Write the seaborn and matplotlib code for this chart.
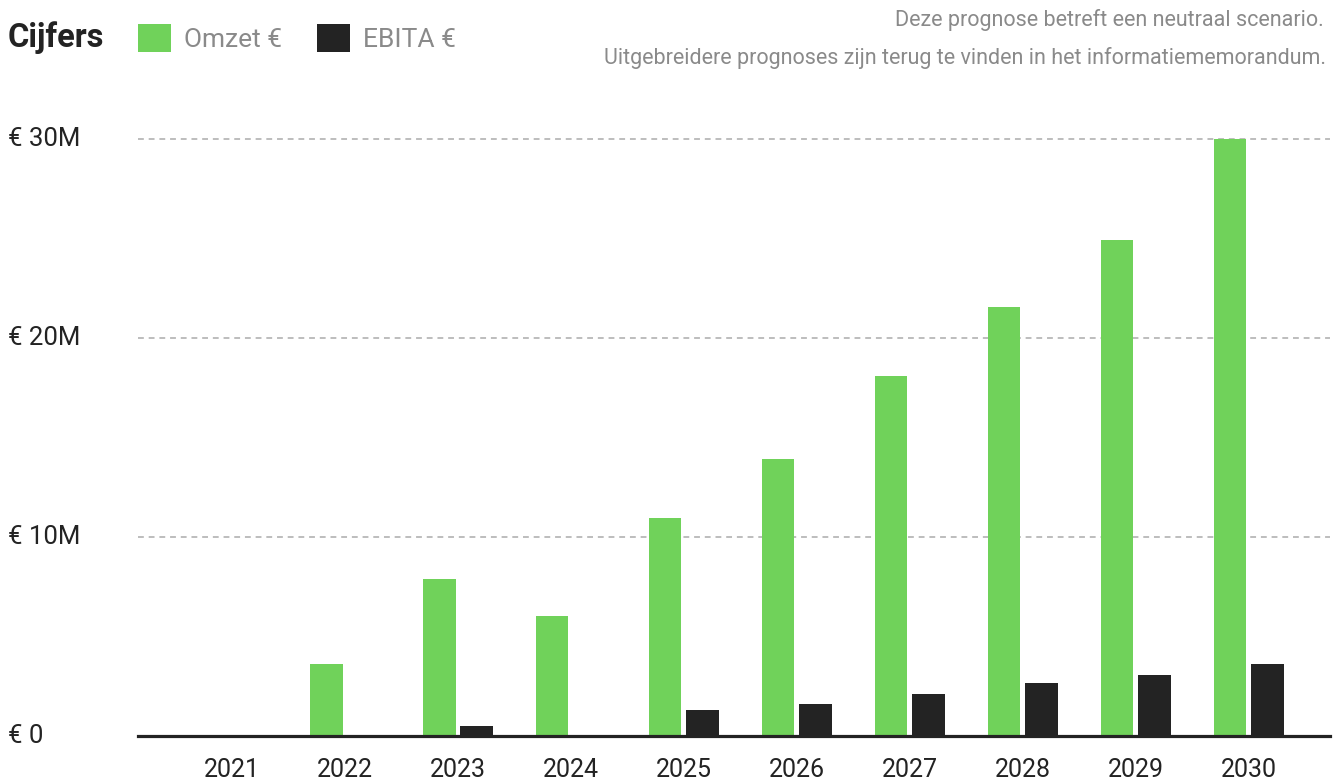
import numpy as np
import pandas as pd
import matplotlib.pyplot as plt
import matplotlib.transforms as mtransforms
import seaborn as sns

years = ['2021', '2022', '2023', '2024', '2025', '2026', '2027', '2028', '2029', '2030']
omzet = [0, 3.62, 7.89, 6.03, 10.95, 13.92, 18.09, 21.56, 24.92, 30.0]   # M euro
ebita = [0, 0, 0.5, 0, 1.31, 1.61, 2.11, 2.66, 3.07, 3.62]
series_names = ['Omzet €', 'EBITA €']
colors = ['#70d25a', '#232323']
ytick_vals = [0, 10, 20, 30]
ytick_labels = ['€ 0', '€ 10M', '€ 20M', '€ 30M']

df = pd.DataFrame({'year': years * 2,
                   'value': omzet + ebita,
                   'series': [series_names[0]] * len(years) + [series_names[1]] * len(years)})

sns.set_style('white')
plt.rcParams['font.family'] = ['Roboto', 'DejaVu Sans']

fig = plt.figure(figsize=(13.39, 7.81), dpi=100)
ax = fig.add_axes([138 / 1339, 1 - 736 / 781, (1330 - 138) / 1339, (736 - 139) / 781])

sns.barplot(data=df, x='year', y='value', hue='series', palette=colors,
            width=0.66, gap=0.12, ax=ax, saturation=1, linewidth=0, edgecolor='none')

ax.set_xlim(-0.83, 9.72)
ax.set_ylim(0, 30)
ax.set_xlabel('')
ax.set_ylabel('')

for s in ['top', 'right', 'left']:
    ax.spines[s].set_visible(False)
ax.spines['bottom'].set_color('#232323')
ax.spines['bottom'].set_linewidth(2.3)
ax.spines['bottom'].set_zorder(5)

# gridlines
for v in ytick_vals[1:]:
    ax.axhline(v, color='#bdbdbd', lw=1.4, ls=(0, (3, 2.5)), zorder=0, clip_on=False)

ax.set_yticks([])
ax.tick_params(axis='x', length=0, pad=16, labelsize=18, labelcolor='#232323')

# y labels at the far left
ytrans = mtransforms.blended_transform_factory(fig.transFigure, ax.transData)
for v, lab in zip(ytick_vals, ytick_labels):
    ax.text(8 / 1339, v, lab, transform=ytrans,
            ha='left', va='center', fontsize=18.5, color='#232323')

# legend
handles, labels = ax.get_legend_handles_labels()
ax.get_legend().remove()
fig.legend(handles, labels, loc='center left', bbox_to_anchor=(138 / 1339, 1 - 38 / 781),
           ncol=2, frameon=False, fontsize=19, labelcolor='#8a8a8a',
           handlelength=1.25, handleheight=1.25, handletextpad=0.5, columnspacing=1.3,
           borderpad=0, borderaxespad=0)

fig.text(8 / 1339, 1 - 38 / 781, 'Cijfers', ha='left', va='center',
         fontsize=23.5, fontweight='bold', color='#232323')
fig.text(1324 / 1339, 1 - 20 / 781, 'Deze prognose betreft een neutraal scenario.',
         ha='right', va='center', fontsize=15.5, color='#8a8a8a')
fig.text(1326 / 1339, 1 - 58 / 781, 'Uitgebreidere prognoses zijn terug te vinden in het informatiememorandum.',
         ha='right', va='center', fontsize=15.5, color='#8a8a8a')

fig.savefig('out.png', dpi=100)
